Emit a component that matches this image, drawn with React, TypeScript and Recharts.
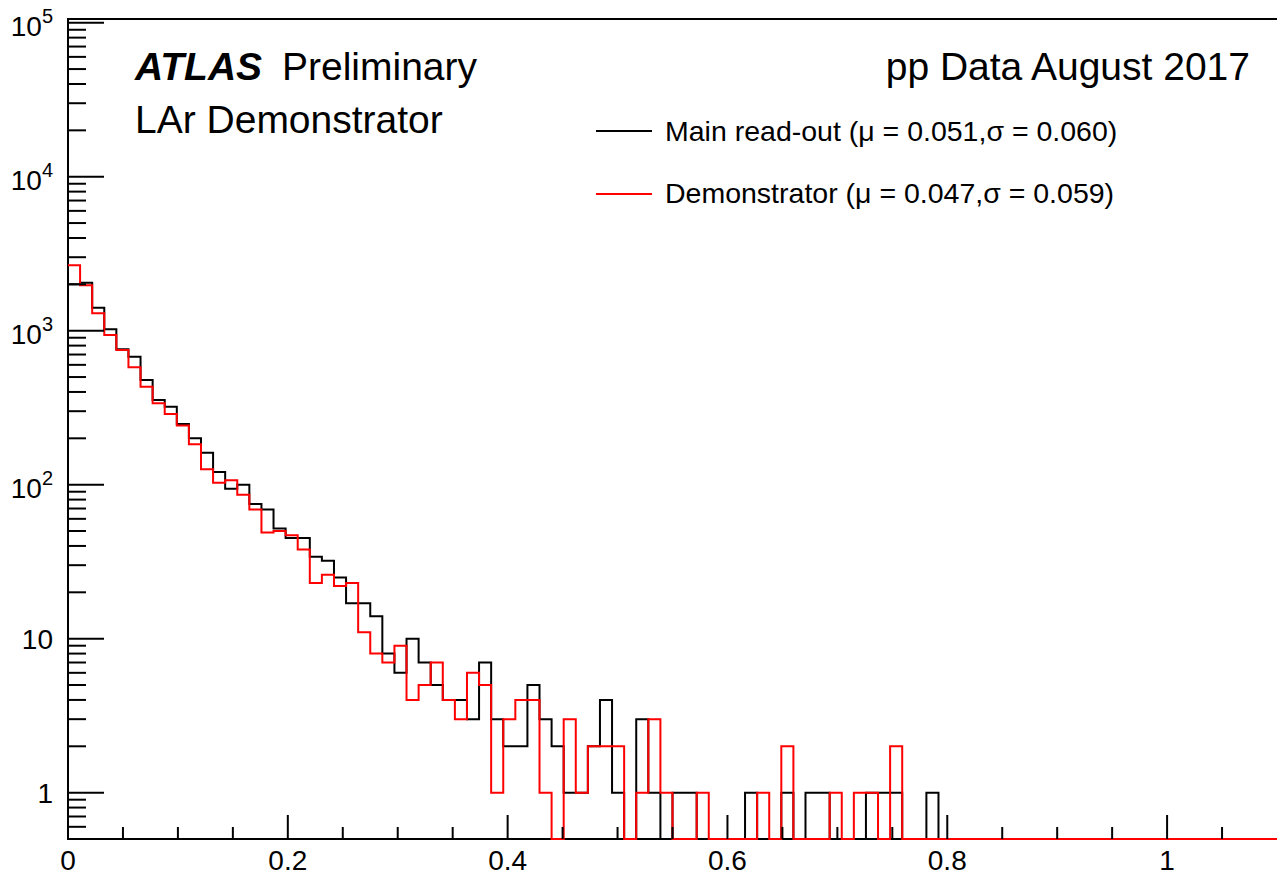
import { LineChart, Line, XAxis, YAxis } from 'recharts';

// bin width of the histogram (100 bins from 0 to 1.1)
const binWidth = 0.011;

const mainReadout = [
  2000, 2050, 1410, 1020, 757, 678, 478, 355, 321, 248,
  200, 161, 121, 94, 100, 75, 69, 52, 45, 45,
  34, 32, 25, 17, 17, 14, 8, 6, 10, 7,
  5, 4, 4, 3, 7, 3, 2, 2, 5, 3,
  2, 1, 1, 2, 4, 1, 0, 3, 1, 0,
  1, 1, 0, 0, 0, 0, 1, 0, 0, 1,
  0, 1, 1, 0, 0, 0, 1, 1, 1, 0,
  0, 1, 0, 0, 0, 0, 0, 0, 0, 0,
  0, 0, 0, 0, 0, 0, 0, 0, 0, 0,
  0, 0, 0, 0, 0, 0, 0, 0, 0, 0,
];

const demonstrator = [
  2660, 1970, 1300, 937, 750, 578, 433, 338, 288, 242,
  183, 126, 103, 107, 86, 69, 49, 50, 47, 38,
  23, 26, 22, 23, 11, 8, 7, 9, 4, 5,
  7, 4, 3, 6, 5, 1, 3, 4, 4, 1,
  0, 3, 1, 2, 2, 2, 0, 1, 3, 1,
  0, 0, 1, 0, 0, 0, 0, 1, 0, 2,
  0, 0, 0, 1, 0, 1, 1, 0, 2, 0,
  0, 0, 0, 0, 0, 0, 0, 0, 0, 0,
  0, 0, 0, 0, 0, 0, 0, 0, 0, 0,
  0, 0, 0, 0, 0, 0, 0, 0, 0, 0,
];

const yMajorTicks = [1, 10, 100, 1000, 10000, 100000];
const yTickBase = ['1', '10', '10', '10', '10', '10'];
const yTickExp = ['', '', '2', '3', '4', '5'];
const yMinorMultiples = [2, 3, 4, 5, 6, 7, 8, 9];

const xMajorTicks = [0, 0.2, 0.4, 0.6, 0.8, 1];
const xTickLabels = ['0', '0.2', '0.4', '0.6', '0.8', '1'];
const xMinorTicks = [0.05, 0.1, 0.15, 0.25, 0.3, 0.35, 0.45, 0.5, 0.55, 0.65, 0.7, 0.75, 0.85, 0.9, 0.95, 1.05];

const Y_MIN = 0.5;
const Y_MAX = 105700;
const X_MAX = 1.1;

const W = 1277;
const H = 877;
const PLOT_LEFT = 68;
const PLOT_TOP = 19;
const PLOT_BOTTOM = 839;
const FONT = '"Liberation Sans", Arial, Helvetica, sans-serif';

// log axis can't show empty bins, ROOT puts them on the frame floor
const floor = (v: number) => Math.max(v, Y_MIN);

const data = mainReadout.map((v, i) => ({
  x: i * binWidth,
  main: floor(v),
  demo: floor(demonstrator[i]),
}));
data.push({
  x: X_MAX,
  main: floor(mainReadout[mainReadout.length - 1]),
  demo: floor(demonstrator[demonstrator.length - 1]),
});

const yTicks: number[] = [];
[0.1, 1, 10, 100, 1000, 10000].forEach((d) => {
  yMinorMultiples.forEach((m) => {
    const v = +(m * d).toPrecision(3);
    if (v >= Y_MIN && v <= Y_MAX) yTicks.push(v);
  });
});
yMajorTicks.forEach((v) => yTicks.push(v));
yTicks.sort((a, b) => a - b);

const xTicks = [...xMajorTicks, ...xMinorTicks].sort((a, b) => a - b);

function YTick(props: any) {
  const { y, payload } = props;
  const idx = yMajorTicks.indexOf(payload.value);
  const major = idx >= 0;
  return (
    <g>
      <line
        x1={PLOT_LEFT}
        x2={PLOT_LEFT + (major ? 36 : 18)}
        y1={y}
        y2={y}
        stroke="#000"
        strokeWidth={2}
      />
      {major && yTickExp[idx] === '' && (
        <text x={53} y={y + 10} textAnchor="end" fontSize={28} fontFamily={FONT} fill="#000">
          {yTickBase[idx]}
        </text>
      )}
      {major && yTickExp[idx] !== '' && (
        <text x={53} y={y + 13} textAnchor="end" fontSize={28} fontFamily={FONT} fill="#000">
          {yTickBase[idx]}
          <tspan fontSize={20} dy={-13}>
            {yTickExp[idx]}
          </tspan>
        </text>
      )}
    </g>
  );
}

function XTick(props: any) {
  const { x, payload } = props;
  const idx = xMajorTicks.findIndex((t) => Math.abs(t - payload.value) < 1e-6);
  const major = idx >= 0;
  return (
    <g>
      <line
        x1={x}
        x2={x}
        y1={PLOT_BOTTOM}
        y2={PLOT_BOTTOM - (major ? 24 : 12)}
        stroke="#000"
        strokeWidth={2}
      />
      {major && (
        <text x={x} y={870} textAnchor="middle" fontSize={28} fontFamily={FONT} fill="#000">
          {xTickLabels[idx]}
        </text>
      )}
    </g>
  );
}

// frame drawn under the chart so the histograms sit on top of it, like ROOT
function Frame() {
  return (
    <svg width={W} height={H} style={{ position: 'absolute', left: 0, top: 0 }}>
      <g stroke="#000" strokeWidth={2}>
        <line x1={PLOT_LEFT} x2={W + 2} y1={PLOT_TOP} y2={PLOT_TOP} />
        <line x1={PLOT_LEFT} x2={W + 2} y1={PLOT_BOTTOM} y2={PLOT_BOTTOM} />
        <line x1={PLOT_LEFT} x2={PLOT_LEFT} y1={PLOT_TOP - 1} y2={PLOT_BOTTOM + 1} />
      </g>
    </svg>
  );
}

function Labels() {
  return (
    <svg
      width={W}
      height={H}
      style={{ position: 'absolute', left: 0, top: 0, pointerEvents: 'none' }}
    >
      <g fontFamily={FONT} fill="#000">
        <text x={135} y={80} fontSize={39} fontWeight="bold" fontStyle="italic">
          ATLAS
        </text>
        <text x={282} y={80} fontSize={39}>
          Preliminary
        </text>
        <text x={135} y={133} fontSize={39}>
          LAr Demonstrator
        </text>
        <text x={1250} y={80} fontSize={39} textAnchor="end">
          pp Data August 2017
        </text>

        <line x1={596} x2={652} y1={131} y2={131} stroke="#000" strokeWidth={2} />
        <text x={665} y={141} fontSize={28.5}>
          Main read-out (μ = 0.051,σ = 0.060)
        </text>
        <line x1={596} x2={652} y1={194} y2={194} stroke="#ff0000" strokeWidth={2} />
        <text x={665} y={203} fontSize={28.5}>
          Demonstrator (μ = 0.047,σ = 0.059)
        </text>
      </g>
    </svg>
  );
}

export default function App() {
  return (
    <div style={{ position: 'absolute', left: 0, top: 0, width: W, height: H, background: '#fff', overflow: 'hidden' }}>
      <Frame />
      <div style={{ position: 'absolute', left: 0, top: 0 }}>
        <LineChart
          width={W}
          height={H}
          data={data}
          margin={{ top: PLOT_TOP, right: 0, bottom: 0, left: 0 }}
        >
          <XAxis
            dataKey="x"
            type="number"
            domain={[0, X_MAX]}
            ticks={xTicks}
            interval={0}
            tick={<XTick />}
            tickLine={false}
            axisLine={false}
            height={H - PLOT_BOTTOM}
          />
          <YAxis
            type="number"
            scale="log"
            domain={[Y_MIN, Y_MAX]}
            ticks={yTicks}
            interval={0}
            tick={<YTick />}
            tickLine={false}
            axisLine={false}
            width={PLOT_LEFT}
          />
          <Line
            type="stepAfter"
            dataKey="main"
            stroke="#000"
            strokeWidth={2}
            dot={false}
            activeDot={false}
            isAnimationActive={false}
          />
          <Line
            type="stepAfter"
            dataKey="demo"
            stroke="#ff0000"
            strokeWidth={2}
            dot={false}
            activeDot={false}
            isAnimationActive={false}
          />
        </LineChart>
      </div>
      <Labels />
    </div>
  );
}
